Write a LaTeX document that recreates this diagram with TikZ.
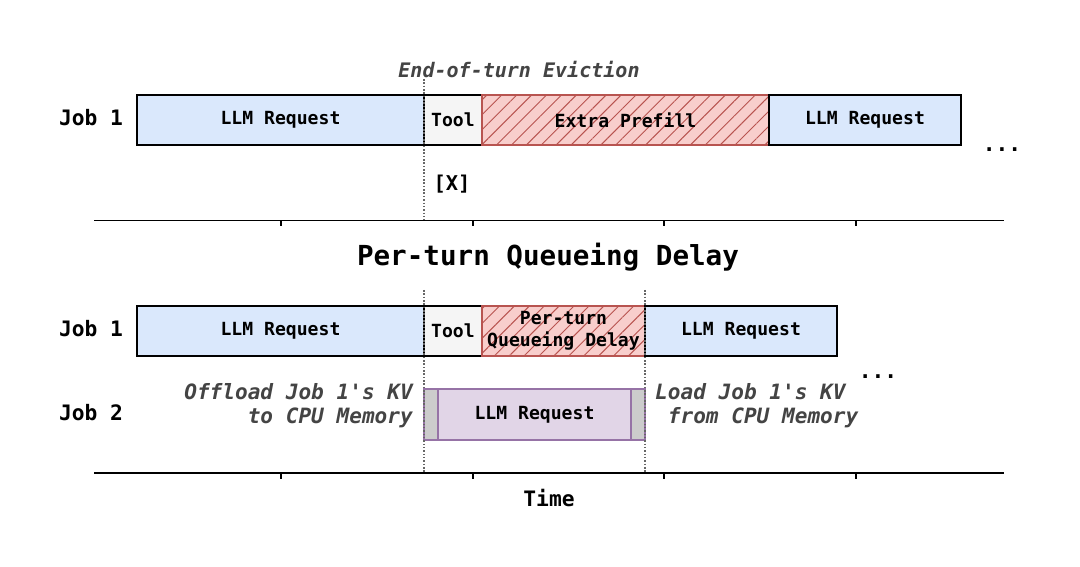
\documentclass[tikz,border=0pt]{standalone}
\usepackage{fontspec}
\setmonofont{DejaVu Sans Mono}
\usetikzlibrary{patterns.meta}

\definecolor{reqblue}{HTML}{DAE8FC}
\definecolor{toolgray}{HTML}{F5F5F5}
\definecolor{extrared}{HTML}{F8CECC}
\definecolor{hatchred}{HTML}{B85450}
\definecolor{jobpurple}{HTML}{E1D5E7}
\definecolor{edgepurple}{HTML}{9673A6}
\definecolor{swapgray}{HTML}{CCCCCC}
\definecolor{notegray}{HTML}{444444}

\begin{document}
\begin{tikzpicture}[x=0.02cm, y=-0.02cm,
    box/.style={draw=black, line width=0.85pt},
    reqbox/.style={box, fill=reqblue},
    toolbox/.style={box, fill=toolgray},
    hatchbox/.style={draw=hatchred, line width=0.85pt, fill=extrared,
      postaction={pattern={Lines[angle=45,distance=6pt,line width=0.55pt]},
        pattern color=hatchred}},
    barlabel/.style={font=\ttfamily\bfseries\fontsize{10.3}{12.4}\selectfont},
    joblabel/.style={font=\ttfamily\bfseries\fontsize{12.1}{14}\selectfont},
    note/.style={text=notegray,
      font=\ttfamily\bfseries\itshape\fontsize{12}{13.6}\selectfont},
    evict/.style={densely dotted, draw=black!60, line width=0.9pt},
    axisline/.style={draw=black, line width=1.3pt},
    tick/.style={draw=black, line width=0.6pt}]
  \useasboundingbox (0,0) rectangle (1080,567);

  % Arriba: desalojo al final del turno
  \draw[reqbox] (137,95) rectangle node[barlabel] (req1a) {LLM Request} (424,145);
  \draw[toolbox] (424,95) rectangle node[barlabel] (tool1) {Tool} (482,145);
  \draw[hatchbox] (482,95) rectangle node[barlabel] (prefill) {Extra Prefill} (769,145);
  \draw[reqbox] (769,95) rectangle node[barlabel] (req1b) {LLM Request} (961,145);
  \node[joblabel] (job1a) at (91,118) {Job 1};
  \node[joblabel] (dotsa) at (1002,150) {...};
  \node[note, font=\ttfamily\bfseries\itshape\fontsize{11.4}{13.6}\selectfont]
    (evnote) at (519,70) {End-of-turn Eviction};
  \node[joblabel, font=\ttfamily\bfseries\fontsize{11.6}{14}\selectfont]
    (mark) at (452,184) {[X]};
  \coordinate (evtop) at (424,79);
  \coordinate (evbot) at (424,220);
  \draw[evict] (evtop) -- (evbot);
  % Eje superior
  \draw[line width=0.7pt] (94,220.5) -- (1004,220.5);
  \foreach \t in {281,473,664,856}
    \draw[tick] (\t,220.5) -- (\t,226);

  % Titulo
  \node[font=\ttfamily\bfseries\fontsize{15.7}{18}\selectfont]
    (title) at (548,257) {Per-turn Queueing Delay};

  % Abajo: Job 1
  \draw[reqbox] (137,306) rectangle node[barlabel] (req2a) {LLM Request} (424,356);
  \draw[toolbox] (424,306) rectangle node[barlabel] (tool2) {Tool} (482,356);
  \draw[hatchbox] (482,306) rectangle node[barlabel, align=center] (delay)
    {Per-turn\\Queueing Delay} (645,356);
  \draw[reqbox] (645,306) rectangle node[barlabel] (req2b) {LLM Request} (837,356);
  \node[joblabel] (job1b) at (91,329) {Job 1};
  \node[joblabel] (dotsb) at (878,377) {...};

  % Abajo: Job 2
  \fill[swapgray] (424,389) rectangle (438,440);
  \fill[swapgray] (631,389) rectangle (645,440);
  \draw[draw=edgepurple, line width=0.85pt, fill=jobpurple]
    (438,389) rectangle node[barlabel] (req3) {LLM Request} (631,440);
  \draw[draw=edgepurple, line width=0.85pt] (424,389) rectangle (645,440);
  \node[joblabel] (job2) at (91,413) {Job 2};
  \node[note, anchor=east, align=right] (offload) at (419,406)
    {Offload Job 1's KV\\to CPU Memory};
  \node[note, anchor=west, align=left] (load) at (649,406)
    {Load Job 1's KV\\\ from CPU Memory};

  \coordinate (offtop) at (424,290);
  \coordinate (offbot) at (424,473);
  \coordinate (loadtop) at (645,290);
  \coordinate (loadbot) at (645,473);
  \draw[evict] (offtop) -- (offbot);
  \draw[evict] (loadtop) -- (loadbot);

  % Eje inferior
  \draw[axisline] (94,473) -- (1004,473);
  \foreach \t in {281,473,664,856}
    \draw[tick] (\t,473) -- (\t,479);
  \node[joblabel] (time) at (549,498) {Time};
\end{tikzpicture}
\end{document}
